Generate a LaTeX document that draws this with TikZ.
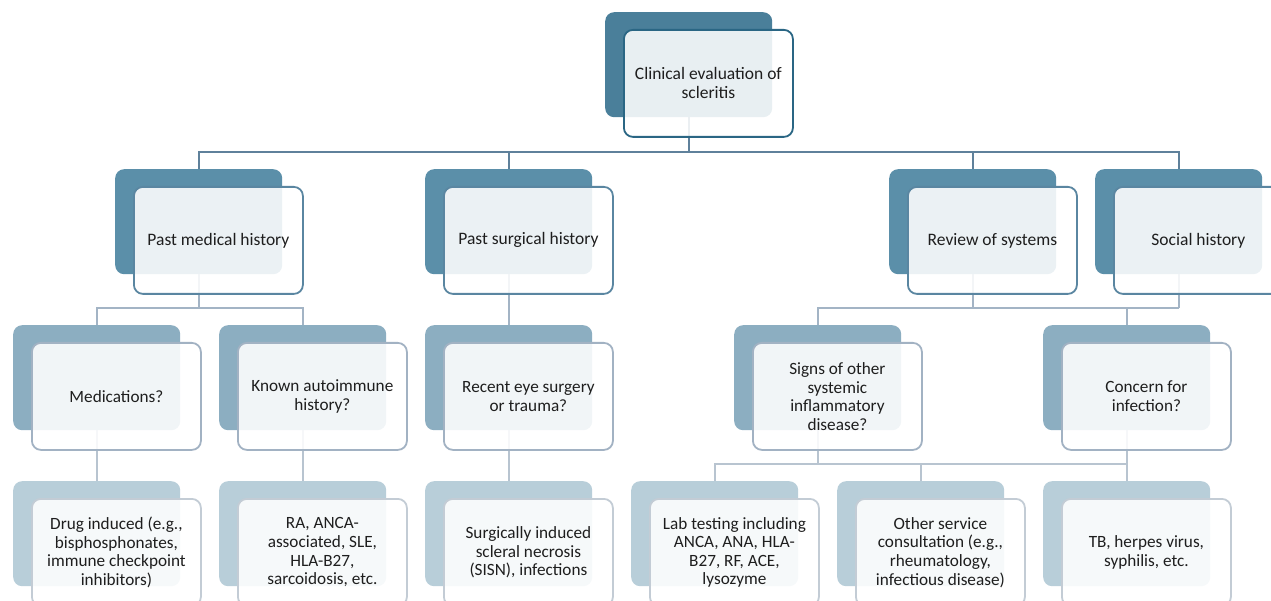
\documentclass[tikz,border=0pt]{standalone}
\usepackage{fontspec}
\setmainfont{Carlito}
\definecolor{backA}{HTML}{4A7F9A}
\definecolor{backB}{HTML}{5B8FA9}
\definecolor{backC}{HTML}{8CAEC1}
\definecolor{backD}{HTML}{B8CED9}
\definecolor{edgeA}{HTML}{2A6684}
\definecolor{edgeB}{HTML}{5A86A1}
\definecolor{edgeC}{HTML}{A2B2C3}
\definecolor{edgeD}{HTML}{C3CCD5}
\definecolor{lineA}{HTML}{5F819B}
\definecolor{lineB}{HTML}{A3B4C5}
\definecolor{lineC}{HTML}{B8C4D0}
\definecolor{txt}{HTML}{1E1E1E}
\pgfdeclarelayer{paper}
\pgfdeclarelayer{bg}
\pgfsetlayers{paper,bg,main}
\tikzset{
  backbox/.style={rectangle, rounded corners=9pt, minimum width=167pt, minimum height=105pt, inner sep=0pt, anchor=north west, draw=none},
  frontbox/.style={rectangle, rounded corners=9pt, minimum width=169pt, minimum height=107pt, inner sep=0pt, anchor=north west, fill=white, fill opacity=0.88, text opacity=1, line width=1.8pt, align=center, text=txt},
  bigtext/.style={font=\fontsize{17.5}{19}\selectfont},
  smalltext/.style={font=\fontsize{17.2}{18.6}\selectfont},
  lvA/.style={fill=backA},
  lvB/.style={fill=backB},
  lvC/.style={fill=backC},
  lvD/.style={fill=backD},
  frA/.style={frontbox, draw=edgeA, bigtext},
  frB/.style={frontbox, draw=edgeB, bigtext},
  frC/.style={frontbox, draw=edgeC, smalltext},
  frD/.style={frontbox, draw=edgeD, smalltext},
  cA/.style={draw=lineA, line width=2pt},
  cB/.style={draw=lineB, line width=2pt},
  cC/.style={draw=lineC, line width=2pt},
}
\newcommand\twobox[6]{%
  \node[backbox,#4] (#1b) at (#2,#3) {};
  \node[#5] (#1) at (#2+18,#3+17) {#6};
}
\begin{document}
\begin{tikzpicture}[x=1pt,y=-1pt]
\useasboundingbox (0,0) rectangle (1271,601);
\clip (0,0) rectangle (1271,601);
\begin{pgfonlayer}{paper}
\fill[white] (0,0) rectangle (1271,601);
\end{pgfonlayer}
% level 1
\twobox{t}{605}{12}{lvA}{frA}{Clinical evaluation of\\scleritis}
% level 2
\twobox{pmh}{115}{169}{lvB}{frB}{Past medical history}
\twobox{psh}{425}{169}{lvB}{frB}{Past surgical history}
\twobox{ros}{889}{169}{lvB}{frB}{Review of systems}
\twobox{sh}{1095}{169}{lvB}{frB}{Social history}
% level 3
\twobox{med}{13}{325}{lvC}{frC}{Medications?}
\twobox{kah}{219}{325}{lvC}{frC}{Known autoimmune\\history?}
\twobox{res}{425}{325}{lvC}{frC}{Recent eye surgery\\or trauma?}
\twobox{sig}{734}{325}{lvC}{frC}{Signs of other\\systemic\\inflammatory\\disease?}
\twobox{cfi}{1043}{325}{lvC}{frC}{Concern for\\infection?}
% level 4
\twobox{dru}{13}{481}{lvD}{frD}{Drug induced (e.g.,\\bisphosphonates,\\immune checkpoint\\inhibitors)}
\twobox{raa}{219}{481}{lvD}{frD}{RA, ANCA-\\associated, SLE,\\HLA-B27,\\sarcoidosis, etc.}
\twobox{sur}{425}{481}{lvD}{frD}{Surgically induced\\scleral necrosis\\(SISN), infections}
\twobox{lab}{631}{481}{lvD}{frD}{Lab testing including\\ANCA, ANA, HLA-\\B27, RF, ACE,\\lysozyme}
\twobox{oth}{837}{481}{lvD}{frD}{Other service\\consultation (e.g.,\\rheumatology,\\infectious disease)}
\twobox{tbh}{1043}{481}{lvD}{frD}{TB, herpes virus,\\syphilis, etc.}
% connectors
\coordinate (h1) at (0,152);
\coordinate (h2) at (0,308);
\coordinate (h3) at (0,464);
\begin{pgfonlayer}{bg}
\draw[cA] (tb.south) -- (tb.south |- h1);
\draw[cA] (pmhb.north) |- (shb.north |- h1) -- (shb.north);
\draw[cA] (pshb.north) -- (pshb.north |- h1);
\draw[cA] (rosb.north) -- (rosb.north |- h1);
\draw[cB] (pmhb.south) -- (pmhb.south |- h2);
\draw[cB] (medb.north) |- (kahb.north |- h2) -- (kahb.north);
\draw[cB] (pshb.south) -- (resb.north);
\draw[cB] (rosb.south) -- (rosb.south |- h2);
\draw[cB] (shb.south) -- (shb.south |- h2);
\draw[cB] (sigb.north) |- (shb.south |- h2);
\draw[cB] (cfib.north) -- (cfib.north |- h2);
\draw[cC] (medb.south) -- (drub.north);
\draw[cC] (kahb.south) -- (raab.north);
\draw[cC] (resb.south) -- (surb.north);
\draw[cC] (sigb.south) -- (sigb.south |- h3);
\draw[cC] (cfib.south) -- (cfib.south |- h3);
\draw[cC] (labb.north) |- (tbhb.north |- h3) -- (tbhb.north);
\draw[cC] (othb.north) -- (othb.north |- h3);
\end{pgfonlayer}
\end{tikzpicture}
\end{document}
